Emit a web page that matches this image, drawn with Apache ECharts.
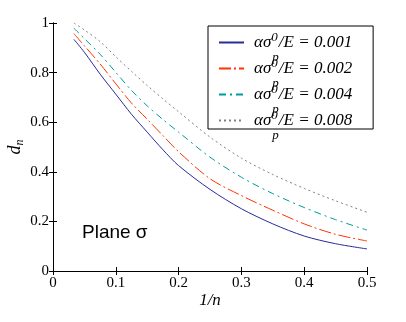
<!DOCTYPE html>
<html>
<head>
<meta charset="utf-8">
<script src="https://cdn.jsdelivr.net/npm/echarts@6/dist/echarts.min.js"></script>
<style>html,body{margin:0;padding:0;background:#fff}#c{width:406px;height:322px}</style>
</head>
<body>
<div id="c"></div>
<script>
var xValues = [0.0333, 0.05, 0.075, 0.1, 0.125, 0.15, 0.175, 0.2, 0.25, 0.3, 0.35, 0.4, 0.45, 0.5];
var seriesNames = ['0.001', '0.002', '0.004', '0.008'];
var d001 = [0.934, 0.882, 0.794, 0.713, 0.632, 0.560, 0.489, 0.425, 0.329, 0.251, 0.190, 0.141, 0.110, 0.089];
var d002 = [0.957, 0.908, 0.835, 0.755, 0.677, 0.612, 0.546, 0.481, 0.372, 0.304, 0.245, 0.190, 0.148, 0.121];
var d004 = [0.979, 0.937, 0.874, 0.801, 0.728, 0.666, 0.611, 0.560, 0.459, 0.378, 0.312, 0.256, 0.207, 0.165];
var d008 = [1.000, 0.972, 0.925, 0.864, 0.805, 0.748, 0.694, 0.642, 0.540, 0.455, 0.389, 0.333, 0.283, 0.237];
var xTicks = [0, 0.1, 0.2, 0.3, 0.4, 0.5];
var yTicks = [0, 0.2, 0.4, 0.6, 0.8, 1];

var colors = ['#2a2a9a', '#ff3300', '#009b9b', '#808080'];
var dashes = ['solid', [12, 3, 2, 3], [7, 4, 2, 4], [2, 3]];
var allData = [d001, d002, d004, d008];

function pairs(ys) { return xValues.map(function (x, i) { return [x, ys[i]]; }); }

var serif = 'Liberation Serif';
var series = allData.map(function (ys, k) {
  return {
    name: seriesNames[k],
    type: 'line',
    data: pairs(ys),
    symbol: 'none',
    smooth: 0.3,
    clip: true,
    lineStyle: { color: colors[k], width: 1, type: dashes[k] },
    itemStyle: { color: colors[k] }
  };
});

function tickLabel(margin) {
  return {
    margin: margin,
    fontFamily: serif, fontSize: 15, color: '#000',
    formatter: function (v) { return '{t|' + v + '}'; },
    rich: { t: { fontFamily: serif, fontSize: 15, color: '#000', fontStyle: 'normal' } }
  };
}

var chart = echarts.init(document.getElementById('c'));
chart.setOption({
  backgroundColor: '#fff',
  animation: false,
  color: colors,
  textStyle: { fontFamily: serif },
  grid: { left: 53, right: 39, top: 23, bottom: 51, containLabel: false, outerBoundsMode: 'none' },
  legend: {
    orient: 'vertical',
    left: 208,
    top: 26,
    padding: [-5, 21, -13, 10],
    itemWidth: 25,
    itemHeight: 10,
    itemGap: -17,
    borderColor: '#000',
    borderWidth: 1,
    backgroundColor: '#fff',
    itemStyle: { opacity: 0 },
    data: seriesNames,
    formatter: function (n) { return '{b|ασ}{sup|0}{sub|p}{a|/E = ' + n + '}'; },
    textStyle: {
      color: '#000',
      fontFamily: serif,
      fontStyle: 'italic',
      fontSize: 17,
      rich: {
        b: { fontFamily: serif, fontStyle: 'italic', fontSize: 17, color: '#000', padding: [0, 0, 0, 5] },
        a: { fontFamily: serif, fontStyle: 'italic', fontSize: 17, color: '#000' },
        sup: { fontFamily: serif, fontStyle: 'italic', fontSize: 13, color: '#000', lineHeight: 12, width: 1, padding: [0, 0, 10, 0] },
        sub: { fontFamily: serif, fontStyle: 'italic', fontSize: 13, color: '#000', lineHeight: 12, padding: [30, 0, 0, 0] }
      }
    }
  },
  xAxis: [{
    type: 'value', min: 0, max: 0.5, interval: 0.1,
    name: '1/n', nameLocation: 'middle', nameGap: 21, nameMoveOverlap: false,
    nameTextStyle: { fontFamily: serif, fontStyle: 'italic', fontSize: 17, color: '#000' },
    axisLine: { lineStyle: { color: '#000', width: 1 } },
    axisTick: { inside: true, length: 4, lineStyle: { color: '#000' } },
    axisLabel: tickLabel(5),
    splitLine: { show: false }
  }, {
    type: 'value', min: 0, max: 0.5, interval: 0.1, position: 'top',
    axisLine: { lineStyle: { color: '#000', width: 1 } },
    axisTick: { inside: true, length: 4, lineStyle: { color: '#000' } },
    axisLabel: { show: false }, splitLine: { show: false }
  }],
  yAxis: [{
    type: 'value', min: 0, max: 1, interval: 0.2,
    name: '{d|d}{n|n}', nameLocation: 'middle', nameGap: 27, nameRotate: 90, nameMoveOverlap: false,
    nameTextStyle: {
      rich: {
        d: { fontFamily: serif, fontStyle: 'italic', fontSize: 18, color: '#000' },
        n: { fontFamily: serif, fontStyle: 'italic', fontSize: 12, color: '#000', padding: [10, 0, 0, 0] }
      }
    },
    axisLine: { lineStyle: { color: '#000', width: 1 } },
    axisTick: { inside: true, length: 4, lineStyle: { color: '#000' } },
    axisLabel: tickLabel(4),
    splitLine: { show: false }
  }, {
    type: 'value', min: 0, max: 1, interval: 0.2, position: 'right',
    axisLine: { show: true, lineStyle: { color: '#000', width: 1 } },
    axisTick: { show: true, inside: true, length: 4, lineStyle: { color: '#000' } },
    axisLabel: { show: false }, splitLine: { show: false }
  }],
  graphic: [{
    type: 'text', left: 82, top: 223,
    style: { text: 'Plane σ', fontFamily: 'Liberation Sans', fontSize: 19, fill: '#000' }
  }],
  series: series
});
</script>
</body>
</html>
